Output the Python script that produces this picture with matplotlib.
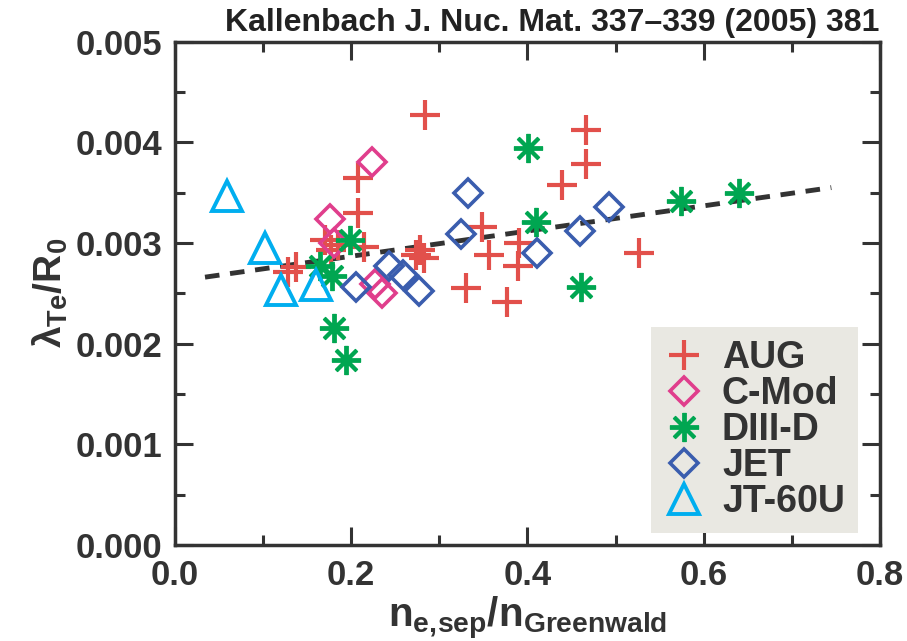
import matplotlib
matplotlib.use("Agg")
import matplotlib.pyplot as plt
from matplotlib.ticker import MultipleLocator, FormatStrFormatter

plt.rcParams['font.family'] = ['Liberation Sans', 'DejaVu Sans']
plt.rcParams['mathtext.fontset'] = 'custom'
plt.rcParams['mathtext.rm'] = 'Liberation Sans:bold'
plt.rcParams['mathtext.it'] = 'Liberation Sans:bold'
plt.rcParams['mathtext.bf'] = 'Liberation Sans:bold'

# ---- data ----
aug_x = [0.284, 0.467, 0.467, 0.439, 0.208, 0.208, 0.214, 0.170, 0.177, 0.185, 0.128,
         0.1375, 0.273, 0.278, 0.283, 0.349, 0.356, 0.390, 0.389, 0.330, 0.377, 0.527]
aug_y = [0.00427, 0.00412, 0.00378, 0.00358, 0.00365, 0.00330, 0.00296, 0.00303, 0.00293,
         0.00298, 0.00271, 0.00276, 0.00288, 0.00293, 0.00285, 0.00316, 0.00288, 0.00300,
         0.00277, 0.00255, 0.00241, 0.00290]

cmod_x = [0.224, 0.176, 0.181, 0.227, 0.235]
cmod_y = [0.00380, 0.00324, 0.00300, 0.00259, 0.00250]

d3d_x = [0.401, 0.410, 0.461, 0.574, 0.640, 0.199, 0.165, 0.178, 0.181, 0.194]
d3d_y = [0.00394, 0.00321, 0.00256, 0.00342, 0.00350, 0.00303, 0.00277, 0.00267, 0.00215, 0.00184]

jet_x = [0.333, 0.325, 0.411, 0.460, 0.493, 0.205, 0.243, 0.259, 0.277]
jet_y = [0.00350, 0.00309, 0.00290, 0.00312, 0.00336, 0.00256, 0.00277, 0.00268, 0.00252]

jt_x = [0.059, 0.102, 0.120, 0.160]
jt_y = [0.00347, 0.00295, 0.00253, 0.00258]

fit_x = [0.034, 0.745]
fit_y = [0.00266, 0.00355]

x_ticks = [0.0, 0.2, 0.4, 0.6, 0.8]
y_ticks = [0.000, 0.001, 0.002, 0.003, 0.004, 0.005]

# ---- plot ----
dark = '#333333'
fig = plt.figure(figsize=(9.07, 6.41), dpi=100)
ax = fig.add_axes([0.193, 0.150, 0.777, 0.785])

ax.plot(fit_x, fit_y, ls=(0, (3, 2.2)), color=dark, lw=3.5, zorder=1)

ax.plot(aug_x, aug_y, ls='none', marker='+', ms=21, mew=3.0, color='#E2504B', label='AUG', zorder=3)
ax.plot(cmod_x, cmod_y, ls='none', marker='D', ms=14, mew=2.6, mfc='none', mec='#E03E8C', label='C-Mod', zorder=3)
ax.plot(d3d_x, d3d_y, ls='none', marker=(8, 2, 0), ms=21, mew=2.8, color='#00A651', label='DIII-D', zorder=3)
ax.plot(jet_x, jet_y, ls='none', marker='D', ms=14, mew=2.6, mfc='none', mec='#3A5DAE', label='JET', zorder=3)
ax.plot(jt_x, jt_y, ls='none', marker='^', ms=22, mew=2.8, mfc='none', mec='#00AEEF', label='JT-60U', zorder=3)

ax.set_xlim(0, 0.8)
ax.set_ylim(0, 0.005)
ax.set_xticks(x_ticks)
ax.set_yticks(y_ticks)
ax.xaxis.set_minor_locator(MultipleLocator(0.1))
ax.yaxis.set_minor_locator(MultipleLocator(0.0005))
ax.xaxis.set_major_formatter(FormatStrFormatter('%.1f'))
ax.yaxis.set_major_formatter(FormatStrFormatter('%.3f'))
ax.tick_params(which='both', direction='in', top=True, right=True, color=dark, width=2.2)
ax.tick_params(which='major', length=13, labelsize=25, labelcolor=dark)
ax.tick_params(axis='x', which='major', pad=10)
ax.tick_params(axis='y', which='major', pad=9)
ax.tick_params(which='minor', length=7)
for lab in ax.get_xticklabels() + ax.get_yticklabels():
    lab.set_fontweight('bold')
for s in ax.spines.values():
    s.set_color(dark)
    s.set_linewidth(2.5)

ax.set_xlabel(r'$\mathregular{n_{e,\!sep}/n_{Greenwald}}$', fontsize=29, fontweight='bold',
              color=dark, labelpad=2)
ax.set_ylabel(r'$\mathregular{\lambda_{Te}/R_0}$', fontsize=28, fontweight='bold',
              color=dark, labelpad=4)

ax.text(1.0, 1.008, 'Kallenbach J. Nuc. Mat. 337\u2013339 (2005) 381', transform=ax.transAxes,
        ha='right', va='bottom', fontsize=23, fontweight='bold', color='#222222')

leg = ax.legend(loc='lower right', bbox_to_anchor=(0.969, 0.024), frameon=True, fancybox=False,
                borderaxespad=0.0, handletextpad=0.45, labelspacing=0.0,
                handlelength=1.1, borderpad=0.35, prop={'weight': 'bold', 'size': 27})
leg.get_frame().set_facecolor('#E9E8E2')
leg.get_frame().set_edgecolor('none')
leg.get_frame().set_alpha(1)
for t in leg.get_texts():
    t.set_color(dark)

fig.savefig('out.png', dpi=100)
